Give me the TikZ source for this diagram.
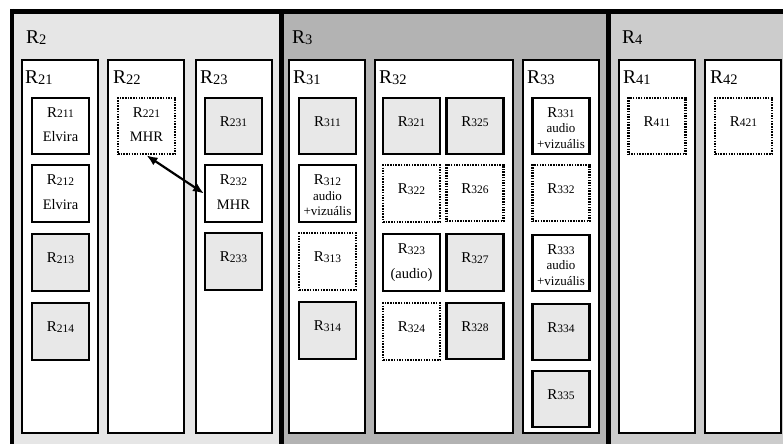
\documentclass[tikz,border=0pt]{standalone}
\usepackage{fontspec}
\setmainfont{Liberation Serif}
\usetikzlibrary{arrows.meta}
\definecolor{regA}{HTML}{E6E6E6}
\definecolor{regB}{HTML}{B3B3B3}
\definecolor{regC}{HTML}{CCCCCC}
\definecolor{cellgray}{HTML}{E8E8E8}
% room labels: R with a smaller, slightly lowered index
\newcommand{\bigR}[1]{{\fontsize{19.5}{21}\selectfont R\raisebox{-1pt}{\fontsize{14.5}{16}\selectfont #1}}}
\newcommand{\smR}[1]{{\fontsize{15}{16}\selectfont R\raisebox{-0.8pt}{\fontsize{11.5}{13}\selectfont #1}}}
\newcommand{\celltxt}[1]{{\fontsize{14.5}{16}\selectfont #1}}
\newcommand{\smalltxt}[1]{{\fontsize{13}{15}\selectfont #1}}
\begin{document}
\begin{tikzpicture}[x=1pt,y=-1pt,
  frame/.style={line width=4.5pt, black},
  column/.style={draw, fill=white, line width=2pt, minimum width=76pt, minimum height=373pt, inner sep=0pt},
  widecol/.style={column, minimum width=138pt},
  cell/.style={draw, line width=2.1pt, minimum width=57pt, minimum height=56.5pt, inner sep=0pt},
  graycell/.style={cell, fill=cellgray},
  whitecell/.style={cell, fill=white},
  dotcell/.style={cell, fill=white, line width=2.2pt, dash pattern=on 1.5pt off 1.2pt},
  lbl/.style={anchor=base, inner sep=0pt},
  headlbl/.style={anchor=base west, inner sep=0pt},
  link/.style={{Latex[length=11pt,width=9pt]}-{Latex[length=11pt,width=9pt]}, line width=2.2pt}]
\useasboundingbox (0,0) rectangle (783,444);

% region backgrounds
\fill[regA] (12,11) rectangle (281.7,444);
\fill[regB] (281.7,11) rectangle (608.7,444);
\fill[regC] (608.7,11) rectangle (783,444);
% heavy frame and separators
\draw[frame] (10,11.3) -- (783,11.3);
\draw[frame] (12.2,9) -- (12.2,444);
\draw[frame] (281.7,11) -- (281.7,444);
\draw[frame] (608.7,11) -- (608.7,444);

% region titles
\node[headlbl] (t2) at (26,44) {\bigR{2}};
\node[headlbl] (t3) at (292,44) {\bigR{3}};
\node[headlbl] (t4) at (622,44) {\bigR{4}};

% columns
\node[column]  (c21) at (60,246.5) {};
\node[column]  (c22) at (146,246.5) {};
\node[column]  (c23) at (234,246.5) {};
\node[column]  (c31) at (327,246.5) {};
\node[widecol] (c32) at (444,246.5) {};
\node[column]  (c33) at (560.5,246.5) {};
\node[column]  (c41) at (657,246.5) {};
\node[column]  (c42) at (743,246.5) {};
\node[headlbl] (t21) at (25,83) {\bigR{21}};
\node[headlbl] (t22) at (113,83) {\bigR{22}};
\node[headlbl] (t23) at (200,83) {\bigR{23}};
\node[headlbl] (t31) at (293,83) {\bigR{31}};
\node[headlbl] (t32) at (379,83) {\bigR{32}};
\node[headlbl] (t33) at (527,83) {\bigR{33}};
\node[headlbl] (t41) at (623,83) {\bigR{41}};
\node[headlbl] (t42) at (710,83) {\bigR{42}};

% R21
\node[whitecell] (r211) at (60.5,126) {};
\node[lbl] (l211) at (60.5,117) {\smR{211}};
\node[lbl] (m211) at (60.5,141.5) {\celltxt{Elvira}};
\node[whitecell] (r212) at (60.5,193.5) {};
\node[lbl] (l212) at (60.5,184.5) {\smR{212}};
\node[lbl] (m212) at (60.5,209) {\celltxt{Elvira}};
\node[graycell] (r213) at (60.5,262.5) {};
\node[lbl] (l213) at (60.5,262.5) {\smR{213}};
\node[graycell] (r214) at (60.5,331.5) {};
\node[lbl] (l214) at (60.5,331.5) {\smR{214}};

% R22
\node[dotcell] (r221) at (146.5,126) {};
\node[lbl] (l221) at (146.5,117) {\smR{221}};
\node[lbl] (m221) at (146.5,141.5) {\celltxt{MHR}};

% R23
\node[graycell] (r231) at (233.5,126) {};
\node[lbl] (l231) at (233.5,126) {\smR{231}};
\node[whitecell] (r232) at (233.5,193.5) {};
\node[lbl] (l232) at (233.5,184.5) {\smR{232}};
\node[lbl] (m232) at (233.5,209) {\celltxt{MHR}};
\node[graycell] (r233) at (233.5,261.5) {};
\node[lbl] (l233) at (233.5,261.5) {\smR{233}};

% R31
\node[graycell] (r311) at (327.5,126) {};
\node[lbl] (l311) at (327.5,126) {\smR{311}};
\node[whitecell] (r312) at (327.5,193.5) {};
\node[lbl] (l312) at (327.5,184.5) {\smR{312}};
\node[lbl] (a312) at (327.5,200) {\smalltxt{audio}};
\node[lbl] (v312) at (327.5,215.5) {\smalltxt{+vizuális}};
\node[dotcell] (r313) at (327.5,261.5) {};
\node[lbl] (l313) at (327.5,261.5) {\smR{313}};
\node[graycell] (r314) at (327.5,330.5) {};
\node[lbl] (l314) at (327.5,330.5) {\smR{314}};

% R32
\node[graycell] (r321) at (411.5,126) {};
\node[lbl] (l321) at (411.5,126) {\smR{321}};
\node[graycell] (r325) at (475,126) {};
\node[lbl] (l325) at (475,126) {\smR{325}};
\node[dotcell] (r322) at (411.5,193.5) {};
\node[lbl] (l322) at (411.5,193.5) {\smR{322}};
\node[dotcell] (r326) at (475,193) {};
\node[lbl] (l326) at (475,193) {\smR{326}};
\node[whitecell] (r323) at (411.5,262.5) {};
\node[lbl] (l323) at (411.5,253.5) {\smR{323}};
\node[lbl] (m323) at (411.5,278) {\celltxt{(audio)}};
\node[graycell] (r327) at (475,262.5) {};
\node[lbl] (l327) at (475,262.5) {\smR{327}};
\node[dotcell] (r324) at (411.5,331.5) {};
\node[lbl] (l324) at (411.5,331.5) {\smR{324}};
\node[graycell] (r328) at (475,331) {};
\node[lbl] (l328) at (475,331) {\smR{328}};

% R33
\node[whitecell] (r331) at (561,126) {};
\node[lbl] (l331) at (561,117) {\smR{331}};
\node[lbl] (a331) at (561,132.5) {\smalltxt{audio}};
\node[lbl] (v331) at (561,148) {\smalltxt{+vizuális}};
\node[dotcell] (r332) at (561,193) {};
\node[lbl] (l332) at (561,193) {\smR{332}};
\node[whitecell] (r333) at (561,263) {};
\node[lbl] (l333) at (561,254) {\smR{333}};
\node[lbl] (a333) at (561,269.5) {\smalltxt{audio}};
\node[lbl] (v333) at (561,285) {\smalltxt{+vizuális}};
\node[graycell] (r334) at (561,332) {};
\node[lbl] (l334) at (561,332) {\smR{334}};
\node[graycell] (r335) at (561,399) {};
\node[lbl] (l335) at (561,399) {\smR{335}};

% R4
\node[dotcell] (r411) at (657,126) {};
\node[lbl] (l411) at (657,126) {\smR{411}};
\node[dotcell] (r421) at (743.5,126) {};
\node[lbl] (l421) at (743.5,126) {\smR{421}};

% link between the two MHR rooms
\draw[link] (r221.south) -- (r232.west);
\end{tikzpicture}
\end{document}
